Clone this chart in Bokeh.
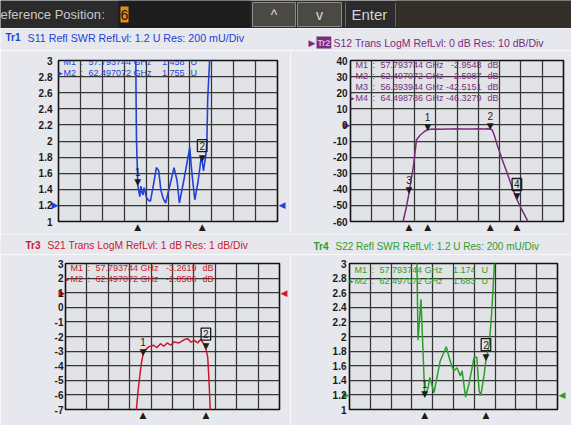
from bokeh.plotting import figure
from bokeh.layouts import column, row
from bokeh.models import Label, Range1d, FixedTicker, LinearAxis
from bokeh.core.properties import value
from bokeh.embed import file_html
from bokeh.resources import INLINE

FONT = "Liberation Sans"
SYM = "DejaVu Sans"

# ---------------- data ----------------
freq_start, freq_stop = 52.0, 68.0
freq_div = [52.0, 53.6, 55.2, 56.8, 58.4, 60.0, 61.6, 63.2, 64.8, 66.4, 68.0]

swr_ticks = [1, 1.2, 1.4, 1.6, 1.8, 2, 2.2, 2.4, 2.6, 2.8, 3]
swr_labels = ["1", "1.2", "1.4", "1.6", "1.8", "2", "2.2", "2.4", "2.6", "2.8", "3"]
s12_ticks = [-60, -50, -40, -30, -20, -10, 0, 10, 20, 30, 40]
s12_labels = ["-60", "-50", "-40", "-30", "-20", "-10", "0", "10", "20", "30", "40"]
s21_ticks = [-7, -6, -5, -4, -3, -2, -1, 0, 1, 2, 3]
s21_labels = ["-7", "-6", "-5", "-4", "-3", "-2", "-1", "0", "1", "2", "3"]

# Tr1 S11 SWR
s11_freq = [57.55, 57.65, 57.67, 57.70, 57.75, 57.79, 57.85, 57.94, 58.02, 58.10,
            58.17, 58.25, 58.33, 58.40, 58.54, 58.71, 58.93, 59.15, 59.32, 59.48,
            59.66, 59.83, 60.14, 60.44, 60.66, 60.83, 61.20, 61.59, 61.71, 61.84,
            61.96, 62.20, 62.42, 62.497, 62.59, 62.77, 62.84, 62.90, 63.04, 63.12]
s11_swr = [3.6, 3.0, 2.5, 2.0, 1.72, 1.458, 1.39, 1.31, 1.44, 1.36,
           1.33, 1.42, 1.37, 1.31, 1.27, 1.25, 1.45, 1.67, 1.63, 1.39,
           1.28, 1.23, 1.45, 1.67, 1.51, 1.23, 1.55, 1.92, 1.67, 1.45,
           1.27, 1.50, 1.79, 1.755, 1.63, 1.83, 1.99, 2.52, 3.0, 3.5]

# Tr2 S12 LogM
s12_freq = [55.70, 55.95, 56.20, 56.39, 56.73, 56.96, 57.24, 57.56, 57.79, 58.00,
            58.40, 58.80, 59.20, 59.60, 60.00, 60.40, 60.80, 61.20, 61.60, 62.00,
            62.30, 62.497, 62.64, 62.79, 63.01, 63.39, 63.83, 64.18, 64.50, 64.82,
            65.27, 65.45]
s12_db = [-66, -60, -51, -42.5, -25.4, -9.2, -6.3, -4.1, -2.95, -2.7,
          -2.55, -2.65, -2.5, -2.6, -2.45, -2.55, -2.5, -2.6, -2.45, -2.5,
          -2.45, -2.51, -3.1, -6.1, -12.2, -21.4, -31.5, -39.7, -46.33, -51.9,
          -59.0, -62.0]

# Tr3 S21 LogM
s21_freq = [57.20, 57.30, 57.42, 57.52, 57.67, 57.79, 57.95, 58.20, 58.59, 58.84,
            59.10, 59.35, 59.61, 59.86, 60.12, 60.49, 60.89, 61.15, 61.38, 61.64,
            61.88, 62.10, 62.33, 62.497, 62.63, 62.70, 62.76, 62.84]
s21_db = [-8.0, -7.0, -5.8, -4.97, -3.84, -3.26, -2.95, -2.71, -2.60, -2.76,
          -2.49, -2.67, -2.44, -2.60, -2.37, -2.44, -2.21, -2.15, -2.39, -2.26,
          -2.44, -2.21, -2.49, -2.86, -3.39, -4.52, -5.65, -7.5]

# Tr4 S22 SWR
s22_freq = [57.15, 57.19, 57.27, 57.50, 57.79, 58.05, 58.18, 58.50, 58.97, 59.44,
            59.75, 60.01, 60.27, 60.53, 60.66, 60.93, 61.19, 61.58, 61.79, 61.97,
            62.10, 62.36, 62.497, 62.75, 62.94, 63.15, 63.28]
s22_swr = [3.4, 3.0, 1.95, 2.51, 1.174, 1.30, 1.44, 1.23, 1.66, 1.86,
           1.66, 1.53, 1.57, 1.46, 1.53, 1.17, 1.35, 1.71, 1.72, 1.26,
           1.19, 1.48, 1.683, 1.89, 2.33, 3.0, 3.3]

# markers
m_names_2 = ["1", "2"]
m_freq_2 = [57.793744, 62.497072]
m_freq_txt_2 = ["57.793744", "62.497072"]
s11_mval = [1.458, 1.755]
s11_mtxt = ["1.458", "1.755"]
s21_mval = [-3.2619, -2.8586]
s21_mtxt = ["-3.2619", "-2.8586"]
s22_mval = [1.174, 1.683]
s22_mtxt = ["1.174", "1.683"]
m_names_4 = ["1", "2", "3", "4"]
m_freq_4 = [57.793744, 62.497072, 56.393944, 64.498786]
m_freq_txt_4 = ["57.793744", "62.497072", "56.393944", "64.498786"]
s12_mval = [-2.9548, -2.5087, -42.5151, -46.3279]
s12_mtxt = ["-2.9548", "-2.5087", "-42.5151", "-46.3279"]

# ---------------- styling ----------------
BG = "#e6e8ed"
PLOT_BG = "#e2e3e6"
BLUE = "#2342d6"
PURPLE = "#7a2c7e"
RED = "#c8192f"
GREEN = "#2c9e2c"
DARK = "#1b1b1b"
W = 571


def slabel(p, x, y, text, color=DARK, size="10px", font=FONT, align="left",
           baseline="middle", style="normal", units="screen", **kw):
    lb = Label(x=x, y=y, x_units=units, y_units=units, text=text,
               text_color=color, text_font_size=size, text_font=font,
               text_align=align, text_baseline=baseline, text_font_style=style, **kw)
    p.add_layout(lb)
    return lb


def make_axis(p, side, ticks, labels, color, size, standoff, font=FONT, style="normal"):
    ax = LinearAxis(ticker=FixedTicker(ticks=ticks),
                    major_label_overrides=dict(zip(ticks, labels)),
                    axis_line_color=None, major_tick_line_color=None,
                    minor_tick_line_color=None, major_tick_out=0, major_tick_in=0,
                    major_label_standoff=standoff, major_label_text_font=font,
                    major_label_text_font_size=size, major_label_text_color=color,
                    major_label_text_font_style=style)
    p.add_layout(ax, side)
    return ax


def panel(width, height, bl, br, bt, bb, ticks, labels, ref, color, mfreq,
          num_standoff, right_arrow=True, tri_size="9px"):
    p = figure(width=width, height=height, title=None,
               x_range=Range1d(freq_start, freq_stop),
               y_range=Range1d(ticks[0], ticks[-1]),
               x_axis_location=None, y_axis_location=None,
               output_backend="svg", toolbar_location=None,
               min_border_left=bl, min_border_right=br,
               min_border_top=bt, min_border_bottom=bb)
    p.background_fill_color = PLOT_BG
    p.border_fill_color = BG
    p.outline_line_color = "#111111"
    p.outline_line_width = 1.6
    p.xgrid.ticker = FixedTicker(ticks=freq_div)
    p.ygrid.ticker = FixedTicker(ticks=ticks)
    p.grid.grid_line_color = "#363636"
    p.grid.grid_line_width = 1.25
    # reference level arrow (nearest the frame), then the value scale
    make_axis(p, "left", [ref], ["▶"], color, "9px", 0, font=SYM)
    make_axis(p, "left", ticks, labels, "#1a1a1a", "10px", num_standoff, style="bold")
    if right_arrow:
        make_axis(p, "right", [ref], ["◀"], color, "9px", 1, font=SYM)
    # stimulus marker triangles under the frame
    make_axis(p, "below", mfreq, ["▲"] * len(mfreq), DARK, tri_size, 0, font=SYM)
    fw = width - bl - br
    fh = height - bt - bb
    return p, fw, fh


def add_markers(p, mf, mv, names, active):
    p.text(x=mf, y=mv, text=["▼"] * len(mf), text_align="center",
           text_baseline="bottom", text_font=value(SYM), text_font_size="9px",
           text_color=DARK, y_offset=2)
    for i, (f, v, n) in enumerate(zip(mf, mv, names)):
        kw = dict(border_line_color=DARK, border_line_width=1.3, padding=2) if i == active else {}
        p.add_layout(Label(x=f, y=v, text=n, x_units="data", y_units="data",
                           text_align="center", text_baseline="bottom",
                           y_offset=9, text_font=FONT, text_font_size="10px",
                           text_color=DARK, **kw))


def add_table(p, fh, names, ftxt, vtxt, unit, active, color, dy=11.3):
    for i, (n, ft, vt) in enumerate(zip(names, ftxt, vtxt)):
        y = fh - 6 - dy * i
        if i == active:
            slabel(p, 4, y, "▸", color=color, size="9px", font=SYM, align="right")
        slabel(p, 5, y, "M" + n, color=color, size="9px")
        slabel(p, 22, y, ":", color=color, size="9px")
        slabel(p, 30, y, ft + " GHz", color=color, size="9px")
        slabel(p, 126 if unit == "U" else 131, y, vt, color=color, size="9px", align="right")
        slabel(p, 132 if unit == "U" else 137, y, unit, color=color, size="9px")


def header(height):
    h = figure(width=W, height=height, title=None, x_range=Range1d(0, W),
               y_range=Range1d(0, height), output_backend="svg",
               toolbar_location=None, min_border=0,
               x_axis_location=None, y_axis_location=None)
    h.grid.visible = False
    h.outline_line_color = None
    h.background_fill_color = BG
    h.border_fill_color = BG
    return h


# ---------------- top bar ----------------
bar = figure(width=W, height=28, title=None, x_range=Range1d(0, W),
             y_range=Range1d(0, 28), output_backend="svg", toolbar_location=None,
             min_border=0, x_axis_location=None, y_axis_location=None)
bar.grid.visible = False
bar.outline_line_color = None
bar.background_fill_color = "#2b2b2b"
bar.border_fill_color = "#2b2b2b"
bar.quad(left=[118], right=[250], bottom=[0], top=[28], fill_color="#1d1d1d", line_color=None)
bar.quad(left=[120], right=[128], bottom=[6], top=[22], fill_color="#e48b1c", line_color=None)
bar.quad(left=[252, 297], right=[295, 341], bottom=[2, 2], top=[26, 26],
         fill_color="#4a4943", line_color="#8c8a82", line_width=1)
bar.quad(left=[397], right=[W], bottom=[0], top=[28], fill_color="#352f2a", line_color=None)
bar.segment(x0=[345, 395], y0=[2, 2], x1=[345, 395], y1=[26, 26], line_color="#6a6a6a", line_width=1)
for x, t, c, s, a in [(0, "eference Position", "#c9c9c9", "13px", "left"),
                      (101, ":", "#c9c9c9", "13px", "left"),
                      (124, "6", "#111111", "14px", "center"),
                      (273.5, "^", "#dddddd", "14px", "center"),
                      (319, "v", "#dddddd", "14px", "center"),
                      (351, "Enter", "#d5d5d5", "15px", "left")]:
    bar.add_layout(Label(x=x, y=14, text=t, text_color=c, text_font_size=s,
                         text_font=FONT, text_align=a, text_baseline="middle"))

# ---------------- row 1 titles ----------------
h1 = header(22)
slabel(h1, 5, 13, "Tr1", color=BLUE, size="10px", style="bold", units="data")
slabel(h1, 27, 13, "S11 Refl SWR RefLvl: 1.2  U Res: 200 mU/Div", color=BLUE, size="10.7px", units="data")
slabel(h1, 308, 8, "▶", color=PURPLE, size="9px", font=SYM, units="data")
slabel(h1, 316, 8, "Tr2", color="#dcb4e0", size="8.5px", style="bold", units="data",
       background_fill_color=PURPLE, padding=1)
slabel(h1, 333, 8, "S12 Trans LogM RefLvl: 0  dB Res: 10  dB/Div", color=PURPLE, size="10.5px", units="data")

# ---------------- Tr1 ----------------
p1, fw1, fh1 = panel(290, 184, 58, 13, 7, 11, swr_ticks, swr_labels, 1.2, BLUE, m_freq_2, -4)
p1.line(s11_freq, s11_swr, line_color=BLUE, line_width=1.6)
add_markers(p1, m_freq_2, s11_mval, m_names_2, 1)
add_table(p1, fh1, m_names_2, m_freq_txt_2, s11_mtxt, "U", 1, BLUE)

# ---------------- Tr2 ----------------
p2, fw2, fh2 = panel(281, 184, 60, 8, 10, 11, s12_ticks, s12_labels, 0, PURPLE, m_freq_4, -7,
                     right_arrow=False)
p2.line(s12_freq, s12_db, line_color=PURPLE, line_width=1.5)
add_markers(p2, m_freq_4, s12_mval, m_names_4, 3)
add_table(p2, fh2, m_names_4, m_freq_txt_4, s12_mtxt, "dB", 3, PURPLE)

# ---------------- row 2 titles ----------------
h2 = header(20)
slabel(h2, 25, 9, "Tr3", color=RED, size="10px", style="bold", units="data")
slabel(h2, 47, 9, "S21 Trans LogM RefLvl: 1  dB Res: 1  dB/Div", color=RED, size="10.3px", units="data")
slabel(h2, 313, 8, "Tr4", color=GREEN, size="10px", style="bold", units="data")
slabel(h2, 335, 8, "S22 Refl SWR RefLvl: 1.2  U Res: 200 mU/Div", color=GREEN, size="10px", units="data")

# ---------------- Tr3 ----------------
p3, fw3, fh3 = panel(290, 171, 65, 10, 8, 15, s21_ticks, s21_labels, 1, RED, m_freq_2, -8)
p3.line(s21_freq, s21_db, line_color=RED, line_width=1.5)
add_markers(p3, m_freq_2, s21_mval, m_names_2, 1)
add_table(p3, fh3, m_names_2, m_freq_txt_2, s21_mtxt, "dB", 1, RED)

# ---------------- Tr4 ----------------
p4, fw4, fh4 = panel(281, 171, 59, 14, 9, 16, swr_ticks, swr_labels, 1.2, GREEN, m_freq_2, -7)
p4.line(s22_freq, s22_swr, line_color=GREEN, line_width=1.5)
add_markers(p4, m_freq_2, s22_mval, m_names_2, 1)
add_table(p4, fh4, m_names_2, m_freq_txt_2, s22_mtxt, "U", 1, GREEN)

layout = column(bar, h1, row(p1, p2), h2, row(p3, p4))
open("out.html", "w").write(file_html(layout, INLINE))
